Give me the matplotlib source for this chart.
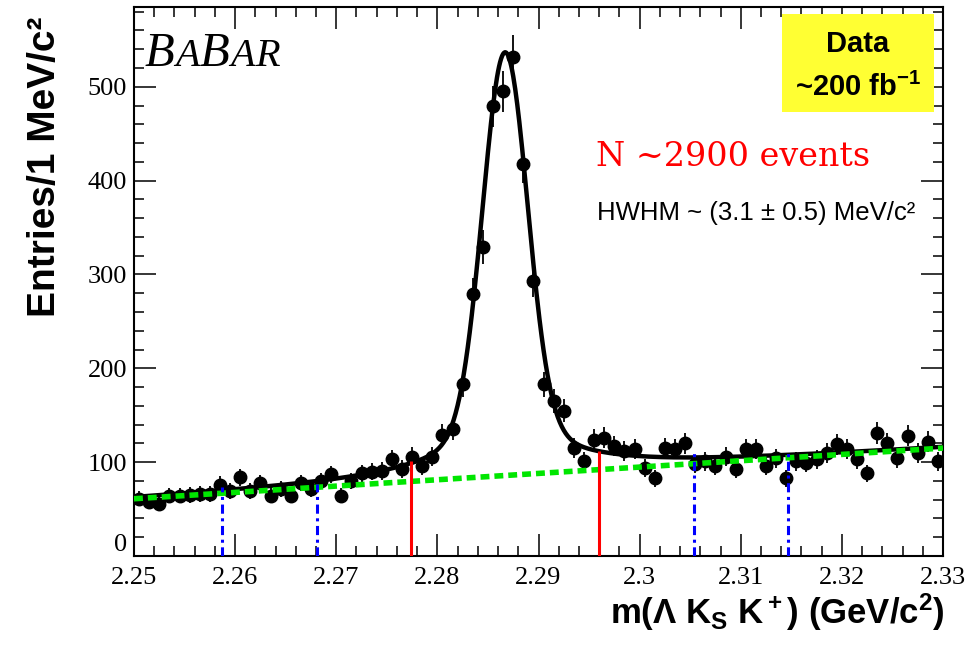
import numpy as np
import matplotlib.pyplot as plt
from matplotlib.patches import Rectangle
from matplotlib.ticker import MultipleLocator

plt.rcParams['font.family'] = 'Liberation Serif'
plt.rcParams['mathtext.fontset'] = 'custom'
plt.rcParams['mathtext.rm'] = 'Liberation Sans:bold'
plt.rcParams['mathtext.it'] = 'Liberation Sans:bold'
plt.rcParams['mathtext.bf'] = 'Liberation Sans:bold'

# histogram: 1 MeV bins from 2.25 to 2.33 GeV
bin_lo = 2.25
bin_w = 0.001
counts = [61, 58, 55, 64, 64, 65, 66, 66, 76, 69,
          84, 69, 78, 64, 71, 64, 78, 71, 80, 87,
          64, 80, 88, 90, 91, 103, 93, 106, 96, 106,
          129, 135, 183, 279, 329, 479, 495, 532, 418, 293,
          183, 165, 155, 115, 101, 124, 126, 117, 112, 114,
          94, 83, 115, 114, 120, 98, 101, 96, 106, 93,
          114, 114, 96, 104, 83, 101, 99, 103, 110, 119,
          114, 103, 88, 131, 120, 104, 128, 110, 122, 101]

# fit result
peak_mass = 2.2867
core_sigma = 0.0022
core_amp = 397
tail_gamma = 0.007
tail_amp = 54
bkg_at_lo = 61
bkg_slope = 675   # entries per GeV

# signal window (red) and sidebands (blue)
signal_edges = [2.2774, 2.2960]
signal_tops = [101, 112]
sideband_edges = [2.2587, 2.2681, 2.3054, 2.3147]
sideband_tops = [74, 77, 110, 110]

xticks = [2.25, 2.26, 2.27, 2.28, 2.29, 2.30, 2.31, 2.32, 2.33]
xtick_labels = ['2.25', '2.26', '2.27', '2.28', '2.29', '2.3', '2.31', '2.32', '2.33']
yticks = [0, 100, 200, 300, 400, 500]

counts = np.array(counts, dtype=float)
centers = bin_lo + bin_w * (np.arange(len(counts)) + 0.5)
errs = np.sqrt(counts)

xs = np.linspace(2.25, 2.33, 801)
bkg = bkg_at_lo + bkg_slope * (xs - bin_lo)
sig = core_amp * np.exp(-0.5 * ((xs - peak_mass) / core_sigma) ** 2) \
    + tail_amp / (1 + ((xs - peak_mass) / tail_gamma) ** 2)

W, H = 978, 650
fig = plt.figure(figsize=(W / 100, H / 100), dpi=100)
ax = fig.add_axes([134 / W, 1 - 556 / H, 809 / W, 549 / H])

ax.errorbar(centers, counts, yerr=errs, xerr=bin_w / 2, fmt='o', color='black',
            ms=9, elinewidth=1.3, capsize=0, zorder=3)
ax.plot(xs, bkg + sig, color='black', lw=3.2, zorder=4)
ax.plot(xs, bkg, color='#00e600', lw=4, dashes=(1.6, 0.9), zorder=5)

ax.vlines(signal_edges, 0, signal_tops, color='red', lw=2.2, zorder=6)
ax.vlines(sideband_edges, 0, sideband_tops, color='blue', lw=2.2,
          linestyles=[(0, (3, 1.5, 1, 1.5))], zorder=6)

ax.set_xlim(2.25, 2.33)
ax.set_ylim(0, 585)
ax.set_xticks(xticks, xtick_labels)
ax.set_yticks(yticks)
ax.xaxis.set_minor_locator(MultipleLocator(0.002))
ax.yaxis.set_minor_locator(MultipleLocator(20))
ax.tick_params(which='both', direction='in', top=True, right=True, width=1.1,
               labelsize=19, colors='black')
ax.tick_params(which='major', length=16)
ax.tick_params(which='minor', length=7.5)
ax.tick_params(axis='x', which='major', pad=8)
ax.tick_params(axis='y', which='major', pad=5)
for s in ax.spines.values():
    s.set_linewidth(1.5)
# ROOT-style: the "0" sits just above the corner
ax.get_yticklabels()[0].set_verticalalignment('bottom')

fig.text(45 / W, 1 - 167 / H, 'Entries/1 MeV/c²', rotation=90, ha='center', va='center',
         family='Liberation Sans', weight='bold', fontsize=28)
fig.text(945 / W, 1 - 612 / H, r'm($\Lambda$ K$_\mathrm{S}$ K$^+$) (GeV/c$^2$)',
         ha='right', va='center', family='Liberation Sans', weight='bold', fontsize=25)

# BaBar logo
for letter, px, size in [('B', 145, 35), ('A', 175, 29), ('B', 200, 35), ('A', 230, 29), ('R', 255, 29)]:
    fig.text(px / W, 1 - 66 / H, letter, ha='left', va='baseline', style='italic',
             fontsize=size, family='Liberation Serif')

fig.patches.append(Rectangle((782 / W, 1 - 112 / H), 152 / W, 98 / H,
                             transform=fig.transFigure, facecolor='#ffff33',
                             edgecolor='none', zorder=1))
fig.text(858 / W, 1 - 44 / H, 'Data', ha='center', va='center', family='Liberation Sans',
         weight='bold', fontsize=21, zorder=2)
fig.text(858 / W, 1 - 87 / H, r'~200 fb$^{-1}$', ha='center', va='center',
         family='Liberation Sans', weight='bold', fontsize=21, zorder=2)

fig.text(733 / W, 1 - 157 / H, 'N ~2900 events', ha='center', va='center', color='red',
         family='DejaVu Serif', fontsize=24)
fig.text(756 / W, 1 - 213 / H, 'HWHM ~ (3.1 ± 0.5) MeV/c²', ha='center', va='center',
         family='Liberation Sans', fontsize=18.5)

fig.savefig('out.png', dpi=100)
